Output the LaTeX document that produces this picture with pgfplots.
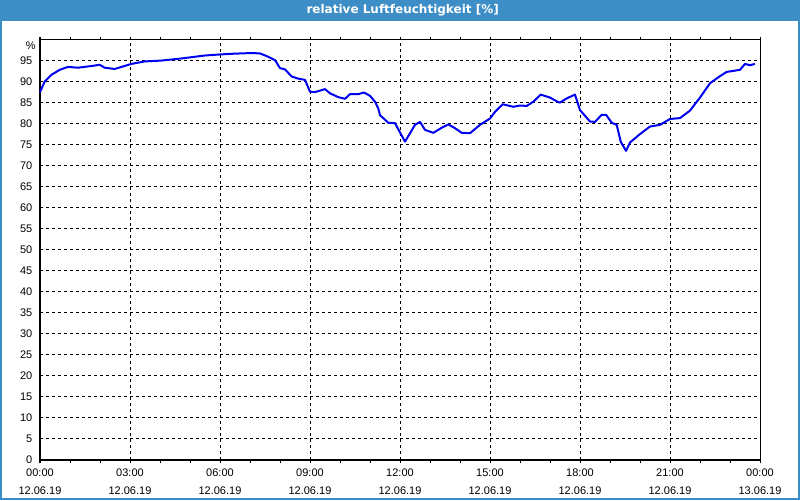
\documentclass[border=0pt]{standalone}
\usepackage{pgfplots}
\pgfplotsset{compat=1.18}
\usepackage{fontspec}
\setmainfont{Liberation Sans}
\newfontfamily\titlefont{DejaVu Sans}
\definecolor{titleblue}{RGB}{61,142,198}
\definecolor{curveblue}{RGB}{0,0,240}
\begin{document}
\begin{tikzpicture}
\useasboundingbox (0,0) rectangle (600pt,375pt);
\fill[white] (0,0) rectangle (600pt,375pt);
\fill[titleblue] (0,359.25pt) rectangle (600pt,375pt);
\draw[titleblue, line width=1.5pt] (0.75pt,0.75pt) rectangle (599.25pt,374.25pt);
\node[white, font=\titlefont\bfseries\fontsize{9}{10}\selectfont] at (302pt,367.5pt) {relative Luftfeuchtigkeit [\%]};
\begin{axis}[
  at={(30pt,30pt)}, anchor=south west,
  width=540pt, height=315pt, scale only axis,
  xmin=0, xmax=24, ymin=0, ymax=100,
  axis line style={black, line width=0.75pt},
  xtick={0,3,...,24},
  xticklabels={{00:00\\12.06.19},{03:00\\12.06.19},{06:00\\12.06.19},{09:00\\12.06.19},{12:00\\12.06.19},{15:00\\12.06.19},{18:00\\12.06.19},{21:00\\12.06.19},{00:00\\13.06.19}},
  minor x tick num=2,
  ytick={0,5,...,95},
  tick align=outside,
  major tick length=2.25pt, minor tick length=2.25pt,
  ytick style={draw=none},
  xtick style={black, line width=0.75pt},
  xmajorgrids, ymajorgrids,
  major grid style={black, line width=0.75pt, dash pattern=on 2.25pt off 2.25pt},
  /pgf/number format/assume math mode=true,
  ticklabel style={font=\fontsize{8.25}{13.2}\selectfont},
  xticklabel style={align=center, yshift=-1.2pt},
  yticklabel style={xshift=0pt},
  clip=false,
]
\addplot[curveblue, line width=1.5pt, line join=round] coordinates {
(0.000,87.6) (0.157,90.1) (0.377,91.7) (0.657,92.9) (0.933,93.6) (1.267,93.4)
(1.71,93.8) (1.99,94.1) (2.157,93.4) (2.49,93.1) (2.767,93.7) (3.043,94.3)
(3.49,94.9) (4.043,95.1) (4.71,95.6) (5.49,96.3) (5.877,96.5) (6.333,96.7)
(7.057,96.9) (7.333,96.8) (7.61,96.0) (7.833,95.2) (8.0,93.3) (8.167,93.0)
(8.39,91.3) (8.61,90.8) (8.833,90.5) (9.0,87.7) (9.167,87.6) (9.5,88.3)
(9.667,87.3) (9.943,86.4) (10.167,86.0) (10.333,87.1) (10.61,87.1) (10.8,87.5)
(11.0,86.7) (11.167,85.3) (11.277,83.7) (11.333,82.1) (11.61,80.3) (11.833,80.2)
(12.167,75.8) (12.5,79.8) (12.667,80.5) (12.833,78.6) (13.11,77.9) (13.39,79.1)
(13.61,79.9) (13.833,79.0) (14.057,77.9) (14.333,77.8) (14.667,79.8) (15.0,81.3)
(15.167,82.9) (15.423,84.7) (15.777,84.1) (16.0,84.4) (16.223,84.3) (16.443,85.3)
(16.69,87.0) (17.0,86.3) (17.277,85.2) (17.333,85.1) (17.557,86.1) (17.833,87.0)
(18.0,83.3) (18.333,80.6) (18.5,80.5) (18.723,82.2) (18.867,82.2) (19.057,80.3)
(19.223,79.8) (19.357,75.8) (19.533,73.6) (19.667,75.6) (20.0,77.6) (20.333,79.4)
(20.667,79.8) (21.0,81.2) (21.333,81.4) (21.667,83.2) (22.0,86.3) (22.333,89.7)
(22.667,91.4) (22.89,92.4) (23.333,92.9) (23.5,94.3) (23.667,94.0) (23.833,94.3)
};
\node[anchor=east, font=\fontsize{8.25}{10}\selectfont, inner sep=0pt] at (rel axis cs:0,1) [xshift=-3pt, yshift=-4.5pt] {\%};
\end{axis}
\end{tikzpicture}
\end{document}
